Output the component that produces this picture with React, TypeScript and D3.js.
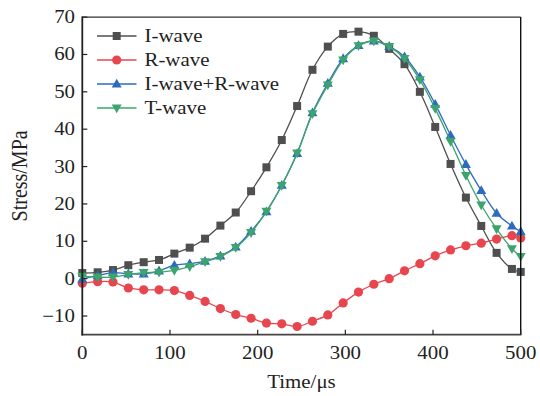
import React from "react";
import * as d3 from "d3";

const times = [0, 17.5, 35, 52.5, 70, 87.5, 105, 122.5, 140, 157.5, 175, 192.5, 210, 227.5, 245, 262.5, 280, 297.5, 315, 332.5, 350, 367.5, 385, 402.5, 420, 437.5, 455, 472.5, 490, 500];
const iWave = [1.5, 1.7, 2.3, 3.6, 4.4, 5.0, 6.7, 8.3, 10.7, 14.2, 17.7, 23.4, 29.8, 37.1, 46.2, 55.9, 62.1, 65.5, 66.1, 65.0, 61.5, 57.4, 50.0, 40.6, 30.7, 21.7, 14.1, 6.9, 2.6, 1.8];
const rWave = [-1.2, -0.8, -0.9, -2.5, -3.0, -3.0, -3.2, -4.5, -6.1, -8.0, -9.6, -10.6, -11.9, -12.1, -12.8, -11.4, -9.7, -6.5, -3.6, -1.5, 0.0, 2.1, 4.0, 6.1, 7.7, 8.8, 9.5, 10.6, 11.5, 10.9];
const irWave = [-0.1, 0.8, 1.6, 1.3, 1.3, 2.1, 3.6, 4.0, 4.7, 6.1, 8.5, 12.7, 17.9, 25.0, 33.5, 44.4, 52.3, 58.9, 62.4, 63.6, 62.2, 59.4, 54.0, 46.7, 38.4, 30.6, 23.6, 17.5, 14.1, 12.6];
const tWave = [0.6, 0.4, 0.4, 1.1, 1.6, 1.7, 2.2, 3.2, 4.5, 5.9, 8.3, 12.3, 18.0, 24.9, 33.6, 44.1, 51.8, 58.5, 62.3, 63.6, 62.1, 58.9, 53.2, 45.5, 36.7, 27.6, 19.7, 13.3, 8.0, 5.9];

const xTicks = [0, 100, 200, 300, 400, 500];
const yTicks = [-10, 0, 10, 20, 30, 40, 50, 60, 70];

const seriesNames = ["I-wave", "R-wave", "I-wave+R-wave", "T-wave"];
const seriesValues = [iWave, rWave, irWave, tWave];
const seriesColors = ["#4f4f4f", "#e8464f", "#2c6bbf", "#3ca46c"];
const seriesMarkers = ["square", "circle", "up", "down"];

const W = 540, H = 396;
const L = 82.3, R = 520.7, T = 17.1, B = 334.7;
const FONT = "'Liberation Serif', 'Times New Roman', serif";
const SX = 1.16;
const FS = 18;

function Marker({ kind, x, y, color }: { kind: string; x: number; y: number; color: string }) {
  if (kind === "square") return <rect x={x - 4} y={y - 4} width={8} height={8} fill={color} />;
  if (kind === "circle") return <circle cx={x} cy={y} r={4.6} fill={color} />;
  if (kind === "up") return <path d={`M${x},${y - 5.2} L${x + 5},${y + 3.6} L${x - 5},${y + 3.6} Z`} fill={color} />;
  return <path d={`M${x},${y + 5.2} L${x + 5},${y - 3.6} L${x - 5},${y - 3.6} Z`} fill={color} />;
}

function Txt({ x, y, anchor, children, size = FS }: { x: number; y: number; anchor?: string; children: any; size?: number }) {
  return (
    <text transform={`translate(${x},${y}) scale(${SX},1)`} textAnchor={anchor || "start"} fontSize={size} fill="#222">
      {children}
    </text>
  );
}

export default function App() {
  const x = d3.scaleLinear().domain([0, 500]).range([L, R]);
  const y = d3.scaleLinear().domain([-15, 70]).range([B, T]);
  const line = d3
    .line<number>()
    .x((_, i) => x(times[i]))
    .y((v) => y(v))
    .curve(d3.curveCatmullRom.alpha(0.5));

  return (
    <svg width={W} height={H} style={{ position: "absolute", left: 0, top: 0 }} fontFamily={FONT}>
      <rect width={W} height={H} fill="#fff" />
      {seriesValues.map((vals, si) => (
        <g key={si}>
          <path d={line(vals) || ""} fill="none" stroke={seriesColors[si]} strokeWidth={1.3} />
          {vals.map((v, i) => (
            <Marker key={i} kind={seriesMarkers[si]} x={x(times[i])} y={y(v)} color={seriesColors[si]} />
          ))}
        </g>
      ))}
      {/* frame */}
      <line x1={L} x2={R} y1={T} y2={T} stroke="#333" strokeWidth={1.2} />
      <line x1={R} x2={R} y1={T} y2={B} stroke="#111" strokeWidth={1.4} />
      <line x1={L} x2={L} y1={T - 0.6} y2={B + 0.9} stroke="#222" strokeWidth={1.8} />
      <line x1={L - 0.9} x2={R + 0.7} y1={B} y2={B} stroke="#444" strokeWidth={1.8} />
      {xTicks.map((t) => (
        <g key={t}>
          <line x1={x(t)} x2={x(t)} y1={B} y2={B - 5} stroke="#222" strokeWidth={1.2} />
          <Txt x={x(t)} y={359} anchor="middle">{t}</Txt>
        </g>
      ))}
      {yTicks.map((t) => (
        <g key={t}>
          <line x1={L} x2={L + 5} y1={y(t)} y2={y(t)} stroke="#222" strokeWidth={1.2} />
          <Txt x={75} y={y(t) + 6} anchor="end">{t < 0 ? "\u2212" + Math.abs(t) : t}</Txt>
        </g>
      ))}
      <Txt x={(L + R) / 2} y={388} anchor="middle">Time/μs</Txt>
      <text transform={`translate(27,${(T + B) / 2}) scale(${SX},1) rotate(-90)`} textAnchor="middle" fontSize={20} fill="#222">Stress/MPa</text>
      {seriesNames.map((n, i) => {
        const ly = 36 + i * 24;
        return (
          <g key={n}>
            <line x1={97} x2={136.5} y1={ly} y2={ly} stroke={seriesColors[i]} strokeWidth={1.3} />
            <Marker kind={seriesMarkers[i]} x={116.7} y={ly} color={seriesColors[i]} />
            <Txt x={144.5} y={ly + 6}>{n}</Txt>
          </g>
        );
      })}
    </svg>
  );
}
